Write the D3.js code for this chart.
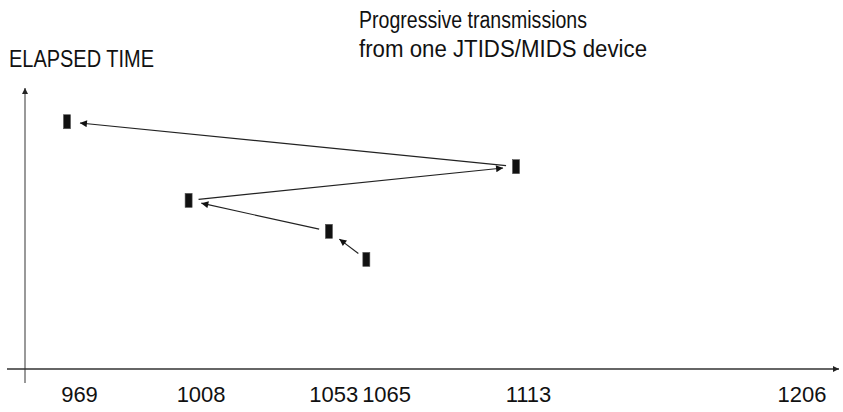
<!DOCTYPE html>
<html>
<head>
<meta charset="utf-8">
<script src="https://cdn.jsdelivr.net/npm/d3@7"></script>
<style>
  html, body { margin: 0; padding: 0; background: #fff; }
  svg { display: block; }
  text { font-family: "Liberation Sans", Arial, sans-serif; fill: #111; }
</style>
</head>
<body>
<svg id="chart" width="843" height="412"></svg>
<script>
// ---- data ----
const tickValues = [969, 1008, 1053, 1065, 1113, 1206];
// order in which the transmissions occur (x = slot / value, y = elapsed time)
const seqSlots   = [1065, 1053, 1008, 1113, 969];
const seqElapsed = [3.9, 4.9, 6.0, 7.2, 8.8];
const yLabel = "ELAPSED TIME";
const titleLines = ["Progressive transmissions", "from one JTIDS/MIDS device"];

// ---- layout ----
const W = 843, H = 412;
const axisY = 369, axisX = 25;
const svg = d3.select("#chart");

const x = d3.scaleLinear().domain([969, 1206]).range([67, 806]);
const y = d3.scaleLinear().domain([0, 10]).range([axisY, 88]);

const defs = svg.append("defs");
defs.append("marker")
  .attr("id", "ah").attr("viewBox", "0 0 10 10")
  .attr("refX", 10).attr("refY", 5)
  .attr("markerWidth", 10).attr("markerHeight", 7)
  .attr("markerUnits", "userSpaceOnUse")
  .attr("orient", "auto")
  .append("path").attr("d", "M0,0 L10,5 L0,10 Z").attr("fill", "#111");
defs.append("marker")
  .attr("id", "axh").attr("viewBox", "0 0 10 10")
  .attr("refX", 10).attr("refY", 5)
  .attr("markerWidth", 8).attr("markerHeight", 6)
  .attr("markerUnits", "userSpaceOnUse")
  .attr("orient", "auto")
  .append("path").attr("d", "M0,0 L10,5 L0,10 Z").attr("fill", "#222");

// axes lines
svg.append("line")
  .attr("x1", axisX).attr("x2", axisX)
  .attr("y1", 383).attr("y2", y.range()[1])
  .attr("stroke", "#777").attr("stroke-width", 1.5)
  .attr("marker-end", "url(#axh)");
svg.append("line")
  .attr("x1", 7).attr("x2", 839)
  .attr("y1", axisY).attr("y2", axisY)
  .attr("stroke", "#333").attr("stroke-width", 1.5)
  .attr("marker-end", "url(#axh)");

// tick labels via axis
const xAxis = d3.axisBottom(x).tickValues(tickValues).tickSize(0).tickFormat(d3.format("d"));
const gx = svg.append("g").attr("transform", `translate(0,${axisY})`).call(xAxis);
gx.select(".domain").remove();
gx.selectAll("text")
  .attr("y", 33).attr("dy", 0)
  .style("font-size", "22px")
  .style("font-family", "'Liberation Sans', Arial, sans-serif")
  .attr("fill", "#111");

// nudge overlapping tick labels apart
(function () {
  const ticks = gx.selectAll(".tick").nodes().map(n => {
    const d = d3.select(n).datum();
    const t = d3.select(n).select("text").node();
    return { node: n, text: t, base: x(d) + 12, w: t.getComputedTextLength(), pos: x(d) + 12 };
  }).sort((a, b) => a.base - b.base);
  const gap = 4;
  for (let it = 0; it < 20; it++) {
    for (let i = 0; i < ticks.length - 1; i++) {
      const a = ticks[i], b = ticks[i + 1];
      const need = (a.w + b.w) / 2 + gap - (b.pos - a.pos);
      if (need > 0) { a.pos -= need / 2; b.pos += need / 2; }
    }
  }
  ticks.forEach(t => {
    const maxPos = W - 17 - t.w / 2;
    if (t.pos > maxPos) t.pos = maxPos;
    d3.select(t.text).attr("x", t.pos - x(d3.select(t.node).datum()));
  });
})();

// points
const pts = seqSlots.map((s, i) => ({ slot: s, t: seqElapsed[i] }));

// arrows between consecutive transmissions
const links = d3.pairs(pts);
svg.append("g").selectAll("line").data(links).join("line")
  .each(function ([a, b]) {
    const x1 = x(a.slot), y1 = y(a.t), x2 = x(b.slot), y2 = y(b.t);
    const L = Math.hypot(x2 - x1, y2 - y1);
    const ux = (x2 - x1) / L, uy = (y2 - y1) / L;
    const s0 = 10, s1 = 13;
    d3.select(this)
      .attr("x1", x1 + ux * s0).attr("y1", y1 + uy * s0)
      .attr("x2", x2 - ux * s1).attr("y2", y2 - uy * s1);
  })
  .attr("stroke", "#222").attr("stroke-width", 1.2)
  .attr("marker-end", "url(#ah)");

// markers
const mw = 7, mh = 14;
svg.append("g").selectAll("rect").data(pts).join("rect")
  .attr("x", d => x(d.slot) - mw / 2)
  .attr("y", d => y(d.t) - mh / 2)
  .attr("width", mw).attr("height", mh)
  .attr("fill", "#111")
  .attr("stroke", "#555").attr("stroke-width", 0.6);

// texts
svg.append("text")
  .attr("x", 9).attr("y", 66.5)
  .attr("textLength", 145).attr("lengthAdjust", "spacingAndGlyphs")
  .style("font-size", "23px")
  .text(yLabel);

const titleWidths = [228, 288];
const tg = svg.append("g");
titleLines.forEach((s, i) => {
  tg.append("text")
    .attr("x", 359).attr("y", 28 + i * 29)
    .attr("textLength", titleWidths[i]).attr("lengthAdjust", "spacingAndGlyphs")
    .style("font-size", "23px")
    .text(s);
});
</script>
</body>
</html>
